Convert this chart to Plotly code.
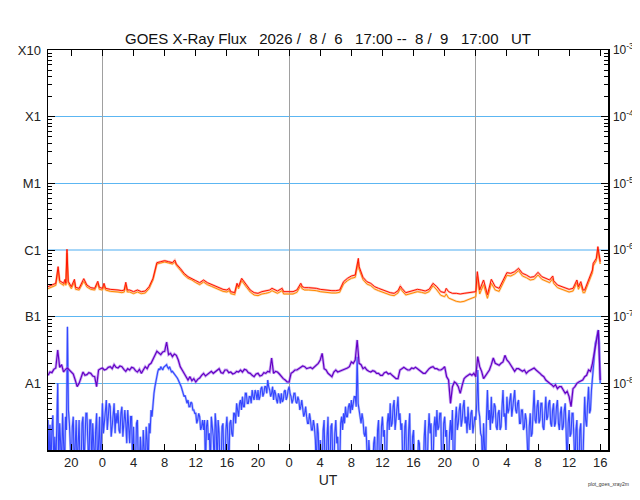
import numpy as np
import pandas as pd
import plotly.graph_objects as go

start = pd.Timestamp("2026-08-06 17:00")
end = pd.Timestamp("2026-08-09 17:00")

# ---- long channel (1-8 A), hours after start, log10 flux (W/m^2) ----
long_hours = [
    0.0, 0.5, 1.0, 1.3, 1.5, 2.0, 2.2, 2.3, 2.44, 2.6,
    3.0, 3.4, 3.55, 4.0, 4.6, 5.0, 5.5, 6.0, 6.4, 6.6,
    7.0, 7.2, 7.4, 8.0, 8.5, 9.0, 9.5, 9.8, 10.0, 10.2,
    10.5, 11.0, 11.5, 12.0, 12.5, 13.0, 13.5, 14.0, 14.5, 15.0,
    15.5, 16.0, 16.3, 16.5, 17.0, 17.5, 18.0, 18.5, 19.0, 19.5,
    20.0, 20.5, 21.0, 21.5, 22.0, 22.5, 23.0, 23.3, 23.5, 24.0,
    24.3, 24.5, 24.9, 25.2, 25.5, 26.0, 26.5, 27.0, 27.5, 28.0,
    28.5, 28.8, 29.0, 29.5, 30.1, 30.3, 31.0, 31.5, 32.0, 32.5,
    32.7, 33.0, 33.5, 34.0, 34.5, 35.0, 35.5, 36.0, 36.5, 37.0,
    37.5, 38.0, 38.5, 39.0, 39.5, 39.9, 40.0, 40.5, 41.0, 41.5,
    42.0, 42.5, 43.0, 43.5, 44.0, 44.5, 45.0, 45.3, 45.5, 46.0,
    46.5, 47.0, 47.5, 48.0, 48.5, 49.0, 49.5, 50.0, 50.5, 51.0,
    51.2, 51.5, 52.0, 52.5, 53.0, 53.5, 54.0, 54.5, 55.0, 55.2,
    55.5, 56.0, 56.2, 56.5, 57.0, 57.5, 58.0, 58.5, 59.0, 59.5,
    60.0, 60.5, 61.0, 61.5, 62.0, 62.5, 63.0, 63.5, 64.0, 64.5,
    64.9, 65.0, 65.5, 66.0, 66.5, 67.0, 67.5, 68.0, 68.2, 68.5,
    68.8, 69.0, 69.5, 70.0, 70.1, 70.5, 70.7, 70.85, 71.0,
]
long_primary_log = [
    -6.55, -6.52, -6.50, -6.25, -6.46, -6.50, -6.44, -6.50, -5.99, -6.47,
    -6.55, -6.44, -6.56, -6.575, -6.43, -6.525, -6.565, -6.575, -6.47, -6.56,
    -6.575, -6.50, -6.575, -6.59, -6.59, -6.60, -6.61, -6.60, -6.485, -6.60,
    -6.60, -6.625, -6.60, -6.625, -6.615, -6.55, -6.425, -6.19, -6.175, -6.16,
    -6.175, -6.19, -6.15, -6.21, -6.275, -6.35, -6.40, -6.425, -6.46, -6.49,
    -6.45, -6.49, -6.515, -6.54, -6.56, -6.59, -6.60, -6.575, -6.625, -6.64,
    -6.50, -6.55, -6.425, -6.47, -6.525, -6.60, -6.64, -6.65, -6.625, -6.615,
    -6.60, -6.575, -6.59, -6.615, -6.575, -6.625, -6.625, -6.625, -6.60, -6.50,
    -6.55, -6.565, -6.565, -6.565, -6.575, -6.59, -6.60, -6.61, -6.61, -6.61,
    -6.60, -6.475, -6.425, -6.39, -6.375, -6.125, -6.25, -6.41, -6.475, -6.50,
    -6.55, -6.575, -6.60, -6.625, -6.64, -6.65, -6.61, -6.54, -6.575, -6.64,
    -6.625, -6.60, -6.59, -6.60, -6.615, -6.59, -6.50, -6.55, -6.625, -6.64,
    -6.575, -6.625, -6.65, -6.65, -6.66, -6.65, -6.64, -6.635, -6.625, -6.325,
    -6.60, -6.45, -6.55, -6.67, -6.44, -6.55, -6.575, -6.45, -6.34, -6.35,
    -6.325, -6.275, -6.35, -6.375, -6.41, -6.40, -6.335, -6.40, -6.425, -6.45,
    -6.39, -6.46, -6.525, -6.55, -6.575, -6.59, -6.575, -6.45, -6.55, -6.475,
    -6.60, -6.60, -6.45, -6.30, -6.20, -6.125, -5.95, -6.10, -6.175,
]
long_secondary_log = [
    -6.58, -6.55, -6.53, -6.30, -6.49, -6.53, -6.48, -6.53, -6.05, -6.50,
    -6.58, -6.48, -6.59, -6.60, -6.47, -6.555, -6.59, -6.60, -6.50, -6.59,
    -6.60, -6.54, -6.60, -6.62, -6.62, -6.63, -6.64, -6.63, -6.53, -6.63,
    -6.63, -6.655, -6.63, -6.655, -6.645, -6.58, -6.45, -6.21, -6.195, -6.18,
    -6.195, -6.21, -6.18, -6.23, -6.30, -6.375, -6.425, -6.45, -6.49, -6.52,
    -6.48, -6.52, -6.545, -6.57, -6.59, -6.62, -6.63, -6.61, -6.655, -6.67,
    -6.53, -6.58, -6.46, -6.50, -6.555, -6.63, -6.675, -6.685, -6.66, -6.65,
    -6.635, -6.61, -6.625, -6.65, -6.61, -6.66, -6.66, -6.66, -6.635, -6.535,
    -6.585, -6.60, -6.60, -6.60, -6.61, -6.625, -6.635, -6.645, -6.645, -6.645,
    -6.635, -6.51, -6.46, -6.425, -6.41, -6.18, -6.29, -6.445, -6.51, -6.535,
    -6.585, -6.61, -6.635, -6.66, -6.675, -6.685, -6.645, -6.575, -6.61, -6.675,
    -6.66, -6.635, -6.625, -6.635, -6.65, -6.625, -6.535, -6.60, -6.68, -6.70,
    -6.66, -6.72, -6.75, -6.77, -6.78, -6.77, -6.745, -6.725, -6.70, -6.40,
    -6.66, -6.52, -6.62, -6.725, -6.50, -6.60, -6.62, -6.49, -6.38, -6.39,
    -6.36, -6.31, -6.39, -6.415, -6.45, -6.44, -6.375, -6.44, -6.465, -6.49,
    -6.43, -6.50, -6.565, -6.59, -6.615, -6.63, -6.615, -6.49, -6.59, -6.515,
    -6.64, -6.64, -6.49, -6.34, -6.24, -6.16, -6.00, -6.14, -6.21,
]

# ---- short channel (0.5-4 A), primary: every 15 min from start, log10 flux ----
short_primary_step_h = 0.25
short_primary_log = [
    -7.88, -7.83, -7.84, -7.79,  -7.77, -7.50, -7.76, -7.72,
    -7.83, -7.79, -7.77, -7.80,  -7.82, -7.86, -7.95, -8.05,
    -8.00, -7.92, -7.83, -7.88,  -7.87, -7.84, -7.85, -7.89,
    -7.90, -8.05, -7.80, -7.78,  -7.77, -7.80, -7.79, -7.76,
    -7.75, -7.78, -7.72, -7.76,  -7.77, -7.74, -7.75, -7.79,
    -7.82, -7.78, -7.80, -7.76,  -7.77, -7.81, -7.83, -7.79,
    -7.85, -7.80, -7.75, -7.78,  -7.72, -7.70, -7.63, -7.58,
    -7.52, -7.55, -7.57, -7.53,  -7.52, -7.38, -7.57, -7.55,
    -7.60, -7.56, -7.58, -7.65,  -7.75, -7.80, -7.85, -7.90,
    -7.95, -7.90, -7.96, -7.93,  -7.98, -7.94, -7.92, -7.88,
    -7.85, -7.89, -7.87, -7.84,  -7.82, -7.85, -7.83, -7.80,
    -7.78, -7.84, -7.85, -7.80,  -7.80, -7.84, -7.83, -7.86,
    -7.85, -7.82, -7.83, -7.80,  -7.83, -7.79, -7.80, -7.84,
    -7.85, -7.88, -7.90, -7.86,  -7.85, -7.89, -7.88, -7.84,
    -7.85, -7.82, -7.83, -7.62,  -7.85, -7.82, -7.83, -7.86,
    -7.90, -7.93, -7.95, -7.98,  -7.98, -7.85, -7.83, -7.80,
    -7.80, -7.78, -7.77, -7.74,  -7.75, -7.78, -7.77, -7.76,
    -7.78, -7.75, -7.73, -7.70,  -7.65, -7.55, -7.78, -7.80,
    -7.85, -7.88, -7.90, -7.83,  -7.80, -7.83, -7.82, -7.80,
    -7.80, -7.78, -7.77, -7.75,  -7.68, -7.70, -7.65, -7.35,
    -7.70, -7.72, -7.78, -7.76,  -7.80, -7.82, -7.83, -7.81,
    -7.82, -7.85, -7.85, -7.88,  -7.88, -7.84, -7.83, -7.86,
    -7.85, -7.88, -7.90, -7.93,  -7.93, -7.80, -7.78, -7.76,
    -7.78, -7.80, -7.80, -7.77,  -7.78, -7.76, -7.78, -7.80,
    -7.83, -7.85, -7.85, -7.81,  -7.78, -7.76, -7.75, -7.78,
    -7.78, -7.80, -7.80, -7.78,  -7.75, -7.90, -7.95, -8.30,
    -8.05, -7.98, -8.00, -8.05,  -8.15, -8.03, -7.93, -7.90,
    -7.88, -7.86, -7.88, -7.85,  -7.90, -7.60, -7.75, -7.82,
    -7.93, -7.88, -7.85, -7.80,  -7.72, -7.62, -7.70, -7.72,
    -7.73, -7.70, -7.68, -7.58,  -7.65, -7.68, -7.73, -7.78,
    -7.82, -7.78, -7.78, -7.80,  -7.82, -7.80, -7.85, -7.82,
    -7.80, -7.78, -7.77, -7.80,  -7.82, -7.85, -7.88, -7.90,
    -7.95, -7.98, -8.00, -8.02,  -8.05, -8.02, -8.08, -8.05,
    -8.05, -8.10, -8.15, -8.12,  -8.20, -8.35, -8.08, -8.05,
    -8.00, -7.98, -7.97, -7.95,  -7.90, -7.88, -7.80, -7.82,
    -7.70, -7.55, -7.40, -7.20,  -7.95,
]

# ---- short channel, secondary: every 7.5 min from start (one row per hour) ----
short_secondary_step_h = 0.125
short_secondary_log = [
    -8.55, -9.30, -8.62, -9.30, -8.70, -8.48, -9.30, -8.80,
    -9.30, -8.60, -8.00, -9.30, -8.60, -8.90, -9.30, -8.45,
    -8.80, -9.30, -8.50, -8.70, -7.15, -8.40, -8.60, -9.30,
    -9.30, -8.65, -8.50, -9.30, -8.75, -8.55, -9.30, -8.70,
    -8.55, -9.30, -9.30, -8.60, -8.50, -9.30, -8.70, -8.45,
    -8.45, -8.80, -9.30, -8.55, -8.55, -9.30, -8.60, -8.90,
    -9.30, -8.70, -8.45, -9.30, -8.65, -8.50, -9.30, -8.60,
    -8.30, -8.75, -8.60, -8.35, -8.25, -8.70, -8.50, -8.30,
    -8.35, -8.80, -8.65, -8.40, -8.30, -8.75, -8.45, -8.60,
    -8.40, -8.70, -8.75, -8.45, -8.35, -8.80, -8.55, -8.40,
    -8.60, -8.90, -8.40, -8.65, -8.90, -8.50, -8.50, -9.30,
    -8.65, -9.30, -9.30, -8.60, -8.55, -9.30, -9.30, -8.80,
    -9.30, -9.30, -8.70, -9.30, -9.30, -8.65, -8.85, -9.30,
    -8.60, -8.75, -8.40, -8.50, -8.25, -8.15, -8.05, -7.95,
    -7.85, -7.82, -7.78, -7.80, -7.75, -7.77, -7.80, -7.76,
    -7.75, -7.73, -7.72, -7.76, -7.78, -7.75, -7.80, -7.83,
    -7.82, -7.84, -7.85, -7.88, -7.90, -7.92, -7.95, -7.98,
    -8.00, -8.05, -8.10, -8.15, -8.20, -8.18, -8.25, -8.30,
    -8.25, -8.35, -8.35, -8.28, -8.30, -8.40, -8.40, -8.45,
    -8.45, -8.60, -8.55, -8.45, -8.50, -8.70, -8.65, -8.55,
    -8.70, -8.55, -9.30, -8.65, -8.55, -8.85, -8.75, -9.30,
    -8.50, -8.70, -8.80, -9.30, -8.45, -8.65, -9.30, -8.55,
    -8.75, -9.30, -9.30, -8.65, -8.60, -9.30, -9.30, -8.70,
    -8.50, -8.80, -9.30, -8.60, -8.55, -8.75, -8.80, -8.45,
    -8.45, -8.60, -8.30, -8.40, -8.50, -8.30, -8.25, -8.40,
    -8.20, -8.35, -8.35, -8.15, -8.15, -8.30, -8.30, -8.20,
    -8.20, -8.30, -8.10, -8.20, -8.25, -8.10, -8.15, -8.25,
    -8.10, -8.25, -8.20, -8.08, -8.05, -8.20, -8.15, -8.05,
    -8.05, -8.15, -7.95, -8.05, -8.10, -8.20, -8.15, -8.05,
    -8.25, -8.10, -8.15, -8.25, -8.30, -8.15, -8.20, -8.30,
    -8.15, -8.28, -8.25, -8.12, -8.10, -8.25, -8.20, -8.10,
    -8.05, -8.15, -8.20, -8.30, -8.25, -8.15, -8.15, -8.28,
    -8.30, -8.20, -8.25, -8.40, -8.35, -8.25, -8.40, -8.50,
    -8.45, -8.35, -8.50, -8.60, -8.60, -8.45, -8.55, -8.70,
    -8.70, -8.55, -8.65, -8.85, -9.30, -8.60, -8.75, -9.30,
    -8.85, -9.30, -9.30, -8.70, -8.55, -9.30, -9.30, -8.80,
    -8.50, -9.30, -9.30, -8.65, -8.60, -9.30, -9.30, -8.75,
    -8.55, -8.90, -8.80, -9.30, -9.30, -8.60, -8.50, -8.70,
    -8.45, -8.60, -8.35, -8.50, -8.50, -8.35, -8.30, -8.45,
    -8.25, -8.40, -8.30, -8.20, -8.20, -8.35, -7.60, -8.30,
    -8.40, -8.55, -8.60, -8.45, -8.55, -8.75, -8.80, -8.65,
    -9.30, -9.30, -8.85, -9.30, -9.30, -9.30, -9.30, -8.90,
    -8.80, -9.30, -9.30, -8.70, -8.55, -9.30, -9.30, -8.65,
    -8.50, -8.80, -8.70, -9.30, -9.30, -8.60, -8.45, -8.70,
    -8.30, -8.65, -8.60, -8.35, -8.25, -8.70, -8.50, -8.30,
    -8.20, -8.55, -8.45, -8.70, -8.60, -9.30, -9.30, -8.65,
    -8.55, -9.30, -9.30, -8.70, -8.45, -9.30, -9.30, -8.80,
    -8.70, -9.30, -9.30, -9.30, -9.30, -8.85, -8.90, -9.30,
    -9.30, -9.30, -9.30, -8.80, -8.55, -9.30, -9.30, -8.75,
    -8.45, -8.75, -8.60, -9.30, -9.30, -8.65, -8.50, -8.80,
    -8.40, -8.70, -8.65, -8.45, -8.45, -9.30, -9.30, -8.60,
    -8.50, -8.80, -8.70, -9.30, -9.30, -8.75, -8.55, -8.85,
    -8.40, -9.30, -9.30, -8.55, -8.35, -8.70, -8.60, -8.40,
    -8.30, -8.65, -8.55, -8.35, -8.25, -8.60, -8.50, -8.75,
    -8.35, -8.60, -8.70, -8.45, -8.40, -8.75, -8.65, -8.50,
    -8.55, -8.30, -7.80, -8.40, -8.50, -8.75, -8.80, -9.30,
    -8.60, -9.30, -9.30, -8.50, -8.10, -8.55, -8.40, -8.70,
    -8.20, -8.60, -8.50, -8.30, -8.35, -8.65, -8.70, -8.45,
    -8.40, -8.70, -8.65, -8.35, -8.10, -8.50, -8.45, -8.70,
    -8.20, -8.45, -8.40, -8.25, -8.15, -8.50, -8.35, -8.20,
    -8.10, -8.40, -8.45, -8.30, -8.25, -8.60, -8.60, -8.40,
    -8.40, -8.70, -8.65, -8.45, -8.55, -8.90, -9.30, -8.65,
    -8.45, -8.80, -8.75, -8.40, -8.10, -8.55, -8.60, -8.35,
    -8.25, -8.60, -8.55, -8.30, -8.30, -8.65, -8.70, -8.45,
    -8.20, -8.55, -8.50, -8.30, -8.25, -8.60, -8.65, -8.40,
    -8.30, -8.65, -8.60, -8.35, -8.25, -8.60, -8.70, -8.45,
    -8.35, -8.70, -8.65, -8.40, -8.30, -8.75, -9.30, -8.60,
    -8.40, -8.80, -8.75, -8.45, -8.45, -8.85, -9.30, -8.70,
    -8.55, -9.30, -9.30, -8.70, -8.60, -9.30, -9.30, -8.75,
    -8.20, -8.55, -8.65, -8.30, -8.05, -8.45, -8.40, -8.10,
    -7.90, -7.70, -7.50, -7.40, -7.35, -7.25, -7.20, -7.40,
    -8.00,
]

flux_ticks = [1e-8, 1e-7, 1e-6, 1e-5, 1e-4, 1e-3]
flare_class_labels = ["A1", "B1", "C1", "M1", "X1", "X10"]
power_labels = ["10<sup>-8</sup>", "10<sup>-7</sup>", "10<sup>-6</sup>",
                "10<sup>-5</sup>", "10<sup>-4</sup>", "10<sup>-3</sup>"]
c_class_level = [1e-6]
minor_digits = [2, 3, 4, 5, 6, 7, 8, 9]
decades = [1e-9, 1e-8, 1e-7, 1e-6, 1e-5, 1e-4]

title_text = "GOES X-Ray Flux   2026 /  8 /  6   17:00 --  8 /  9   17:00   UT"

assert len(long_hours) == len(long_primary_log) == len(long_secondary_log)

long_t = start + pd.to_timedelta(long_hours, unit="h")
prim_t = start + pd.to_timedelta(np.arange(len(short_primary_log)) * short_primary_step_h, unit="h")
sec_t = start + pd.to_timedelta(np.arange(len(short_secondary_log)) * short_secondary_step_h, unit="h")
minor_vals = [d * m for d in decades for m in minor_digits]


def flux(v):
    return [10 ** x for x in v]


series = [
    (sec_t, short_secondary_log, "#3446ff", "rgba(110,130,255,0.55)", 2.4, 1.1),
    (prim_t, short_primary_log, "#6400c4", "rgba(160,100,235,0.55)", 2.8, 1.2),
    (long_t, long_secondary_log, "#ff8a00", "rgba(255,180,110,0.55)", 2.2, 1.0),
    (long_t, long_primary_log, "#ff1400", "rgba(255,120,100,0.5)", 2.2, 1.0),
]

fig = go.Figure()
for t, v, col, halo, hw, lw in series:
    fig.add_trace(go.Scatter(x=t, y=flux(v), mode="lines",
                             line=dict(color=halo, width=hw), hoverinfo="skip"))
    fig.add_trace(go.Scatter(x=t, y=flux(v), mode="lines",
                             line=dict(color=col, width=lw), hoverinfo="skip"))

# empty traces so the overlay axes (day lines / right labels / C1 line) exist
fig.add_trace(go.Scatter(x=[], y=[], xaxis="x2", yaxis="y2", hoverinfo="skip"))
fig.add_trace(go.Scatter(x=[], y=[], xaxis="x", yaxis="y3", hoverinfo="skip"))

font_family = "Liberation Sans, Arial, sans-serif"
ymin, ymax = -9, -3
# page body has an 8px margin inside the 640x500 window; keep the page from scrolling
W, H = 632, 480

fig.update_layout(
    width=W, height=H,
    margin=dict(l=40, r=32, t=42, b=38, autoexpand=False),
    paper_bgcolor="white", plot_bgcolor="white",
    showlegend=False, hovermode=False,
    font=dict(family=font_family, size=13, color="#222"),
    title=dict(text=title_text, x=0.5, xref="paper", xanchor="center",
               y=1 - 31 / H, yref="container", yanchor="middle",
               font=dict(size=15, color="#111")),
    xaxis=dict(
        type="date", range=[start, end],
        tick0="2026-08-06 20:00", dtick=4 * 3600000, tickformat="%-H",
        ticks="inside", ticklen=6, tickcolor="black", tickwidth=1,
        showline=True, linecolor="black", linewidth=1.5, mirror="ticks",
        showgrid=False, zeroline=False,
        title=dict(text="UT", standoff=6, font=dict(size=14)),
    ),
    xaxis2=dict(
        type="date", range=[start, end], overlaying="x", anchor="y2",
        tick0="2026-08-07 00:00", dtick=86400000,
        showgrid=True, gridcolor="#a0a0a0", gridwidth=1,
        showticklabels=False, ticks="", showline=False, zeroline=False,
    ),
    yaxis=dict(
        type="log", range=[ymin, ymax],
        tickmode="array", tickvals=flux_ticks, ticktext=flare_class_labels,
        ticks="inside", ticklen=7, tickcolor="black",
        showgrid=True, gridcolor="#5cb6f2", gridwidth=1,
        showline=True, linecolor="black", linewidth=1.5,
        zeroline=False, ticklabelstandoff=3,
        minor=dict(ticks="inside", ticklen=4, tickcolor="black",
                   tickmode="array", tickvals=minor_vals, showgrid=False),
    ),
    yaxis2=dict(
        type="log", range=[ymin, ymax], overlaying="y", side="right", anchor="x2",
        tickmode="array", tickvals=flux_ticks, ticktext=power_labels,
        ticks="inside", ticklen=7, tickcolor="black",
        showgrid=False, showline=True, linecolor="black", linewidth=1.5,
        zeroline=False, ticklabelstandoff=1,
        tickfont=dict(size=12),
        minor=dict(ticks="inside", ticklen=4, tickcolor="black",
                   tickmode="array", tickvals=minor_vals, showgrid=False),
    ),
    yaxis3=dict(
        type="log", range=[ymin, ymax], overlaying="y", anchor="x",
        tickmode="array", tickvals=c_class_level, showticklabels=False,
        ticks="", showgrid=True, gridcolor="#a6d6f8", gridwidth=2.5,
        showline=False, zeroline=False,
    ),
    annotations=[
        dict(text="plot_goes_xray2m", x=1.0, xref="paper", y=-0.085, yref="paper",
             xanchor="center", yanchor="middle", showarrow=False,
             font=dict(size=5, color="#333")),
    ],
)

fig.write_html("out.html", config={"displayModeBar": False, "staticPlot": True})
